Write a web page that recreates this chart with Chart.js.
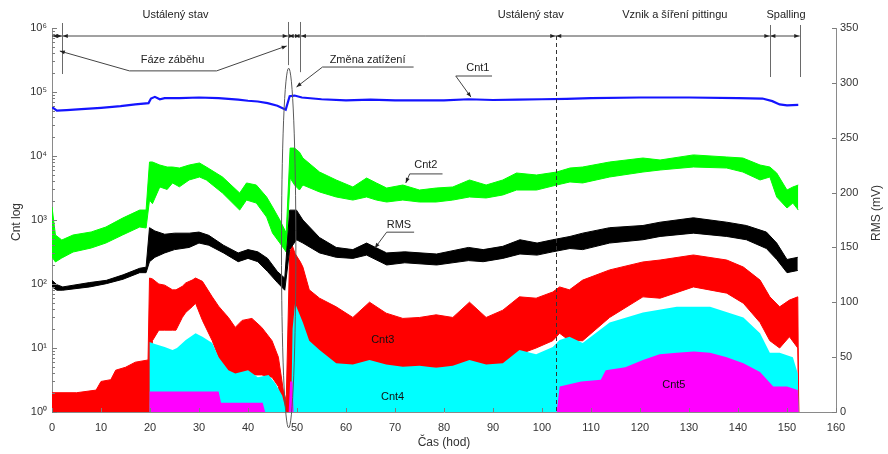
<!DOCTYPE html>
<html>
<head>
<meta charset="utf-8">
<script src="https://cdn.jsdelivr.net/npm/chart.js@4.4.0/dist/chart.umd.min.js"></script>
<style>
  html, body { margin: 0; padding: 0; background: #fff; }
  #wrap { position: relative; width: 888px; height: 454px; }
</style>
</head>
<body>
<div id="wrap"><canvas id="cnt-chart" width="888" height="454"></canvas></div>
<script>
// ---- axis ticks ----
const timeTicks = [0, 10, 20, 30, 40, 50, 60, 70, 80, 90, 100, 110, 120, 130, 140, 150, 160];
const cntTicks = [1, 10, 100, 1000, 10000, 100000, 1000000];
const rmsTicks = [0, 50, 100, 150, 200, 250, 300, 350];

// ---- Cnt1 (blue) ----
const cnt1Time = [0, 1, 3, 6, 10, 14, 17, 19.7, 20.2, 21, 22, 23, 26, 30, 34, 38, 40, 42, 44, 46, 47.7, 48.5, 49.5, 51, 55, 60, 65, 70, 75, 80, 85, 90, 95, 100, 105, 110, 120, 130, 140, 145, 147, 148.5, 150, 152.3];
const cnt1Values = [58000, 51000, 52000, 54000, 56500, 60000, 64000, 67000, 79000, 84000, 77000, 80000, 80000, 82000, 80000, 76000, 73000, 71000, 67000, 61000, 53000, 86000, 88000, 82000, 77000, 74000, 76000, 74000, 74000, 74000, 77000, 75000, 76000, 77000, 78000, 80000, 82000, 82000, 80000, 79000, 72000, 64000, 62000, 63000];

// ---- Cnt2 (green) band: lower / upper envelope ----
const cnt2Time = [0, 0.7, 2, 4.3, 8, 11, 14.4, 17.9, 19.2, 19.9, 20.5, 22, 23.5, 24.6, 26, 28, 30.1, 31.5, 34.8, 38.3, 39.7, 41.7, 43.8, 45, 46.5, 47.8, 48.6, 49.5, 50.5, 51.2, 54.6, 58, 61.4, 64.2, 66.2, 68.3, 71.6, 75, 78.4, 81.8, 85.2, 88.6, 92, 94.8, 98.9, 103, 105.7, 108.3, 113.8, 120.6, 124.1, 130.9, 137.7, 141, 144.5, 146.5, 147.9, 150, 151.2, 152.3];
const cnt2Low = [264, 221, 255, 316, 365, 437, 583, 777, 750, 2050, 1800, 3280, 3000, 3790, 3300, 4220, 4700, 4220, 2640, 1430, 2050, 1840, 1110, 626, 437, 316, 4530, 3520, 2940, 3520, 2740, 2290, 2050, 2290, 2050, 1910, 2050, 1910, 1910, 2050, 2290, 2210, 2460, 2940, 2940, 3520, 3930, 3790, 4700, 5620, 6040, 6730, 6490, 5620, 4220, 4700, 2290, 1540, 1840, 1430];
const cnt2High = [1600, 583, 487, 583, 650, 777, 1070, 1430, 1430, 8060, 8060, 7230, 6730, 6730, 6490, 7230, 7780, 6730, 4700, 2640, 3790, 3520, 2290, 1600, 1000, 626, 13300, 13300, 11500, 9300, 5620, 4220, 3280, 4530, 3790, 3160, 3520, 2940, 3160, 3280, 4220, 3520, 4220, 5420, 5050, 5620, 6490, 6730, 8060, 9300, 8660, 10400, 9650, 9300, 7230, 6730, 5420, 2940, 3280, 3520];

// ---- RMS (black, mV, right axis) band ----
const rmsTime = [0, 1, 2.2, 7.7, 11.1, 14.5, 17.9, 19.2, 19.9, 21, 23, 25, 28, 30, 32, 35, 38, 40, 42, 44, 46, 47.5, 48.5, 49.9, 51.2, 54.6, 58, 61.4, 64.2, 68.3, 72, 78.5, 85, 88, 92, 95.5, 99, 102.2, 105.7, 108.3, 113.8, 120.6, 124.1, 130.9, 137.7, 141.7, 145.8, 147.9, 150, 152.2];
const rmsLow = [114, 111, 111, 114, 117, 121, 127, 127, 137, 141, 145, 148, 150, 154, 152, 145, 137, 140, 137, 128, 118, 111, 148, 157, 154, 145, 141, 140, 143, 134, 136, 134, 138, 137, 140, 144, 143, 146, 149, 148, 154, 157, 160, 163, 160, 157, 149, 139, 127, 129];
const rmsHigh = [120, 116, 114, 118, 120, 125, 131, 132, 168, 165, 162, 163, 163, 164, 161, 152, 145, 148, 146, 140, 128, 122, 184, 184, 175, 159, 150, 148, 154, 145, 146, 144, 150, 148, 151, 157, 154, 157, 160, 163, 168, 170, 173, 177, 173, 170, 164, 154, 139, 141];

// ---- Cnt3 (red) band ----
const cnt3Time = [0, 5, 9, 10, 12, 13, 15, 17, 19.6, 19.9, 20.5, 21.8, 23, 24.6, 25.3, 26.6, 27.3, 28.6, 29.3, 30.7, 32.7, 34, 34.7, 36, 37.4, 38.8, 40.8, 42.8, 44.9, 46.2, 47.2, 47.8, 48.5, 49, 49.6, 50.7, 51.2, 52.5, 54.6, 58, 61.4, 64.8, 68.2, 71.6, 75, 78.4, 81.8, 85.2, 88.6, 92, 95.4, 98.8, 102.2, 103.6, 105.6, 108.3, 113.8, 120.6, 124.1, 130.9, 137.7, 141.1, 144.5, 146.5, 148.5, 150.5, 152.2, 152.4];
const cnt3Low = [1, 1, 1, 1, 1, 1, 1, 1, 1, 1, 13, 19, 19, 19, 19, 30, 36, 44, 50, 27, 13, 7.2, 5, 3.8, 3.8, 3.8, 3.8, 3.8, 3.5, 2.5, 1, 1, 1, 2, 6, 8, 8, 8, 6.5, 5, 4.9, 4.9, 4.9, 4.9, 4.9, 4.9, 4.9, 5, 4.9, 5, 8, 10, 13, 17, 13, 13, 30, 63, 60, 90, 72, 50, 25, 13, 10, 15, 10, 1];
const cnt3High = [2, 2, 2.2, 3, 3.2, 4.5, 5, 6, 6.5, 124, 120, 100, 96, 81, 81, 92, 104, 115, 124, 110, 63, 45, 39, 30, 21, 27, 29, 21, 13, 7.2, 2.2, 1.5, 300, 405, 300, 220, 184, 81, 60, 44, 30, 52, 35, 29, 30, 33, 30, 52, 30, 39, 63, 60, 75, 90, 81, 115, 166, 221, 237, 284, 237, 184, 115, 63, 44, 56, 63, 1];

// ---- Cnt4 (cyan), filled from 1 ----
const cnt4Time = [19.85, 19.9, 21, 23, 24.6, 25.5, 27.3, 29.3, 30.7, 32.7, 34, 36, 37.4, 40, 42, 44.2, 45.6, 47, 47.8, 48.8, 49.1, 49.6, 51.2, 52.5, 54.6, 58, 61.4, 64.8, 68.2, 71.6, 75, 78.4, 81.8, 85.2, 88.6, 92, 95.4, 98.8, 102.2, 103.6, 105.6, 108.3, 113.8, 120.6, 127.5, 134.3, 141.1, 144.5, 146.5, 148.5, 151.2, 152.2, 152.4];
const cnt4Values = [1, 12.4, 11.5, 10.4, 9.3, 10, 13.3, 17, 15, 12, 7.2, 4.5, 4, 4.5, 3.5, 3.8, 2.8, 1.8, 1, 1, 20, 50, 25, 13, 9.3, 5.8, 5.5, 6.5, 5.5, 5.1, 5.3, 4.9, 5.3, 6.5, 5.5, 5.8, 9.3, 8, 10.4, 13.3, 15, 12, 25, 36, 44, 44, 30, 17, 8.4, 8.4, 7.2, 4, 1];

// ---- Cnt5 (magenta), filled from 1 ----
const cnt5Time = [19.85, 19.9, 34, 34.5, 43, 43.5, 48.3, 48.6, 49.1, 49.3, 103, 103.6, 108, 112, 113, 117, 120.6, 124, 127.5, 131, 134.3, 137.7, 141.1, 144.5, 147.2, 150, 152.2, 152.4];
const cnt5Values = [1, 2.1, 2.1, 1.4, 1.4, 1, 1, 3, 3, 1, 1, 2.5, 3, 3.2, 4.5, 5, 6.5, 8, 8.4, 8.8, 8.4, 7.2, 5.8, 4.2, 2.5, 2.5, 2.2, 1];

// ---- phase boundaries along the top (hours) ----
const phaseBounds = [0, 2.1, 48.2, 49.4, 50.7, 102.8, 146.5, 152.6];
const phaseLabels = [
  { text: 'Ustálený stav', t: 25.2 },
  { text: 'Ustálený stav', t: 97.7 },
  { text: 'Vznik a šíření pittingu', t: 127.1 },
  { text: 'Spalling', t: 149.8 }
];

const FONT = '"Liberation Sans", Arial, Helvetica, sans-serif';
const SUP = ['\u2070', '\u00b9', '\u00b2', '\u00b3', '\u2074', '\u2075', '\u2076'];

const pts = (ts, vs) => ts.map((t, i) => ({ x: t, y: vs[i] }));

function band(label, ts, lo, hi, color, axis) {
  return [
    { label: label, data: pts(ts, hi), yAxisID: axis, borderColor: color, backgroundColor: color,
      borderWidth: 1, pointRadius: 0, fill: '+1' },
    { label: label + ' min', data: pts(ts, lo), yAxisID: axis, borderColor: color,
      borderWidth: 1, pointRadius: 0, fill: false }
  ];
}

function area(label, ts, vs, color) {
  return { label: label, data: pts(ts, vs), yAxisID: 'y', borderColor: color, backgroundColor: color,
    borderWidth: 0, pointRadius: 0, fill: 'start' };
}

// earlier entries are painted on top
const datasets = [
  { label: 'Cnt1', data: pts(cnt1Time, cnt1Values), yAxisID: 'y', borderColor: '#1414ff',
    borderWidth: 2.2, pointRadius: 0, fill: false },
  ...band('RMS', rmsTime, rmsLow, rmsHigh, '#000000', 'y2'),
  ...band('Cnt2', cnt2Time, cnt2Low, cnt2High, '#00ff00', 'y'),
  area('Cnt5', cnt5Time, cnt5Values, '#ff00ff'),
  area('Cnt4', cnt4Time, cnt4Values, '#00ffff'),
  ...band('Cnt3', cnt3Time, cnt3Low, cnt3High, '#ff0000', 'y')
];

function arrowHead(ctx, tx, ty, fx, fy, len, half) {
  const a = Math.atan2(ty - fy, tx - fx);
  ctx.beginPath();
  ctx.moveTo(tx, ty);
  ctx.lineTo(tx - len * Math.cos(a) + half * Math.sin(a), ty - len * Math.sin(a) - half * Math.cos(a));
  ctx.lineTo(tx - len * Math.cos(a) - half * Math.sin(a), ty - len * Math.sin(a) + half * Math.cos(a));
  ctx.closePath();
  ctx.fill();
}

function seg(ctx, x1, y1, x2, y2) {
  ctx.beginPath();
  ctx.moveTo(x1, y1);
  ctx.lineTo(x2, y2);
  ctx.stroke();
}

// ticks, axis titles and the text callouts
const decorPlugin = {
  id: 'decor',
  afterDraw(chart) {
    const { ctx, chartArea: a } = chart;
    const xs = chart.scales.x, ys = chart.scales.y, rs = chart.scales.y2;
    const X = t => xs.getPixelForValue(t);
    const Y = e => ys.getPixelForValue(Math.pow(10, e));
    ctx.save();

    // inward tick marks
    ctx.strokeStyle = '#7c7c7c';
    ctx.lineWidth = 1;
    timeTicks.forEach(t => {
      const px = Math.round(X(t)) + 0.5;
      seg(ctx, px, a.bottom, px, a.bottom - 4);
    });
    for (let k = 0; k < 6; k++) {
      for (let m = 1; m < 10; m++) {
        const py = Math.round(ys.getPixelForValue(m * Math.pow(10, k))) + 0.5;
        seg(ctx, a.left, py, a.left + (m === 1 ? 5 : 3), py);
      }
    }
    seg(ctx, a.left, a.top + 0.5, a.left + 5, a.top + 0.5);
    rmsTicks.forEach(v => {
      const py = Math.round(rs.getPixelForValue(v)) + 0.5;
      seg(ctx, a.right, py, a.right - 4, py);
    });

    // axis titles
    ctx.fillStyle = '#333';
    ctx.font = '12px ' + FONT;
    ctx.textAlign = 'center';
    ctx.textBaseline = 'middle';
    ctx.fillText('Čas (hod)', (a.left + a.right) / 2, a.bottom + 31);
    ctx.save();
    ctx.translate(a.left - 35, (a.top + a.bottom) / 2 + 2);
    ctx.rotate(-Math.PI / 2);
    ctx.fillText('Cnt log', 0, 0);
    ctx.restore();
    ctx.save();
    ctx.translate(a.right + 41, (a.top + a.bottom) / 2 - 7);
    ctx.rotate(-Math.PI / 2);
    ctx.fillText('RMS (mV)', 0, 0);
    ctx.restore();

    // phase dimension line along the top
    ctx.strokeStyle = '#444';
    ctx.fillStyle = '#222';
    const yDim = Y(5.875);
    seg(ctx, X(phaseBounds[0]), yDim, X(phaseBounds[phaseBounds.length - 1]), yDim);
    for (let i = 0; i < phaseBounds.length - 1; i++) {
      const x1 = X(phaseBounds[i]), x2 = X(phaseBounds[i + 1]);
      arrowHead(ctx, x1 + 0.5, yDim, x2, yDim, 5, 2);
      arrowHead(ctx, x2 - 0.5, yDim, x1, yDim, 5, 2);
    }
    ctx.strokeStyle = '#6a6a6a';
    seg(ctx, Math.round(X(2.1)) + 0.5, Y(6.078), Math.round(X(2.1)) + 0.5, Y(5.281));
    seg(ctx, Math.round(X(48.2)) + 0.5, Y(6.094), Math.round(X(48.2)) + 0.5, Y(5.42));
    seg(ctx, Math.round(X(50.7)) + 0.5, Y(6.094), Math.round(X(50.7)) + 0.5, Y(5.31));
    seg(ctx, Math.round(X(146.5)) + 0.5, Y(6.047), Math.round(X(146.5)) + 0.5, Y(5.234));
    seg(ctx, Math.round(X(152.6)) + 0.5, Y(6.047), Math.round(X(152.6)) + 0.5, Y(5.234));

    // dashed boundary at the end of the steady state
    ctx.strokeStyle = '#333';
    ctx.setLineDash([4, 3]);
    seg(ctx, Math.round(X(102.8)) + 0.5, yDim, Math.round(X(102.8)) + 0.5, a.bottom);
    ctx.setLineDash([]);

    // ellipse around the load change
    ctx.strokeStyle = '#5a5a5a';
    ctx.beginPath();
    const ecx = X(48.3), ecy = Y(2.5625);
    ctx.ellipse(ecx, ecy, X(48.3 + 1.47) - ecx, ecy - Y(2.5625 + 2.81), 0, 0, Math.PI * 2);
    ctx.stroke();

    ctx.font = '11px ' + FONT;
    ctx.fillStyle = '#222';
    phaseLabels.forEach(p => ctx.fillText(p.text, X(p.t), a.top - 13));

    // callouts: text, underline, leader line with arrow
    const callouts = [
      { text: 'Fáze záběhu', t: 24.6, e: 5.5, u: [15.8, 33.6, 5.33], legs: [[15.8, 1.6, 5.64], [33.6, 47.9, 5.72]] },
      { text: 'Změna zatížení', t: 64.4, e: 5.5, u: [55.2, 73.8, 5.39], legs: [[55.2, 49.9, 5.078]] },
      { text: 'Cnt1', t: 86.9, e: 5.375, u: [82.4, 89.8, 5.25], legs: [[82.4, 85.5, 4.92]] },
      { text: 'Cnt2', t: 76.3, e: 3.86, u: [73.0, 79.7, 3.72], legs: [[73.0, 72.2, 3.58]] },
      { text: 'RMS', t: 70.8, e: 2.92, u: [68.3, 73.9, 2.81], legs: [[68.3, 65.9, 2.5625]] }
    ];
    ctx.strokeStyle = '#444';
    callouts.forEach(c => {
      ctx.fillStyle = '#222';
      ctx.fillText(c.text, X(c.t), Y(c.e));
      const yu = Y(c.u[2]);
      seg(ctx, X(c.u[0]), yu, X(c.u[1]), yu);
      c.legs.forEach(l => {
        seg(ctx, X(l[0]), yu, X(l[1]), Y(l[2]));
        arrowHead(ctx, X(l[1]), Y(l[2]), X(l[0]), yu, 5, 2);
      });
    });

    // series names inside the filled areas
    ctx.fillStyle = '#111';
    ctx.fillText('Cnt3', X(67.5), Y(1.125));
    ctx.fillText('Cnt4', X(69.5), Y(0.234));
    ctx.fillText('Cnt5', X(126.9), Y(0.42));
    ctx.restore();
  }
};

Chart.defaults.font.family = FONT;
Chart.defaults.font.size = 11;
Chart.defaults.color = '#333';

new Chart(document.getElementById('cnt-chart'), {
  type: 'line',
  data: { datasets: datasets },
  plugins: [decorPlugin],
  options: {
    responsive: false,
    animation: false,
    devicePixelRatio: 1,
    layout: { padding: { top: 28, left: 0, right: 0, bottom: 0 } },
    elements: { line: { tension: 0 } },
    plugins: { legend: { display: false }, tooltip: { enabled: false } },
    scales: {
      x: {
        type: 'linear', min: 0, max: 160, position: 'bottom',
        afterBuildTicks: s => { s.ticks = timeTicks.map(v => ({ value: v })); },
        afterFit: s => { s.height = 42; },
        grid: { display: false, drawTicks: false },
        border: { display: true, color: '#8a8a8a' },
        ticks: { autoSkip: false, maxRotation: 0, padding: 9, color: '#333' }
      },
      y: {
        type: 'logarithmic', min: 1, max: 1000000, position: 'left',
        afterBuildTicks: s => { s.ticks = cntTicks.map(v => ({ value: v })); },
        afterFit: s => { s.width = 52; },
        grid: { display: false, drawTicks: false },
        border: { display: true, color: '#8a8a8a' },
        ticks: { padding: 5, color: '#333', callback: v => '10' + SUP[Math.round(Math.log10(v))] }
      },
      y2: {
        type: 'linear', min: 0, max: 350, position: 'right',
        afterBuildTicks: s => { s.ticks = rmsTicks.map(v => ({ value: v })); },
        afterFit: s => { s.width = 52; },
        grid: { display: false, drawTicks: false },
        border: { display: true, color: '#8a8a8a' },
        ticks: { padding: 4, color: '#333' }
      }
    }
  }
});
</script>
</body>
</html>
